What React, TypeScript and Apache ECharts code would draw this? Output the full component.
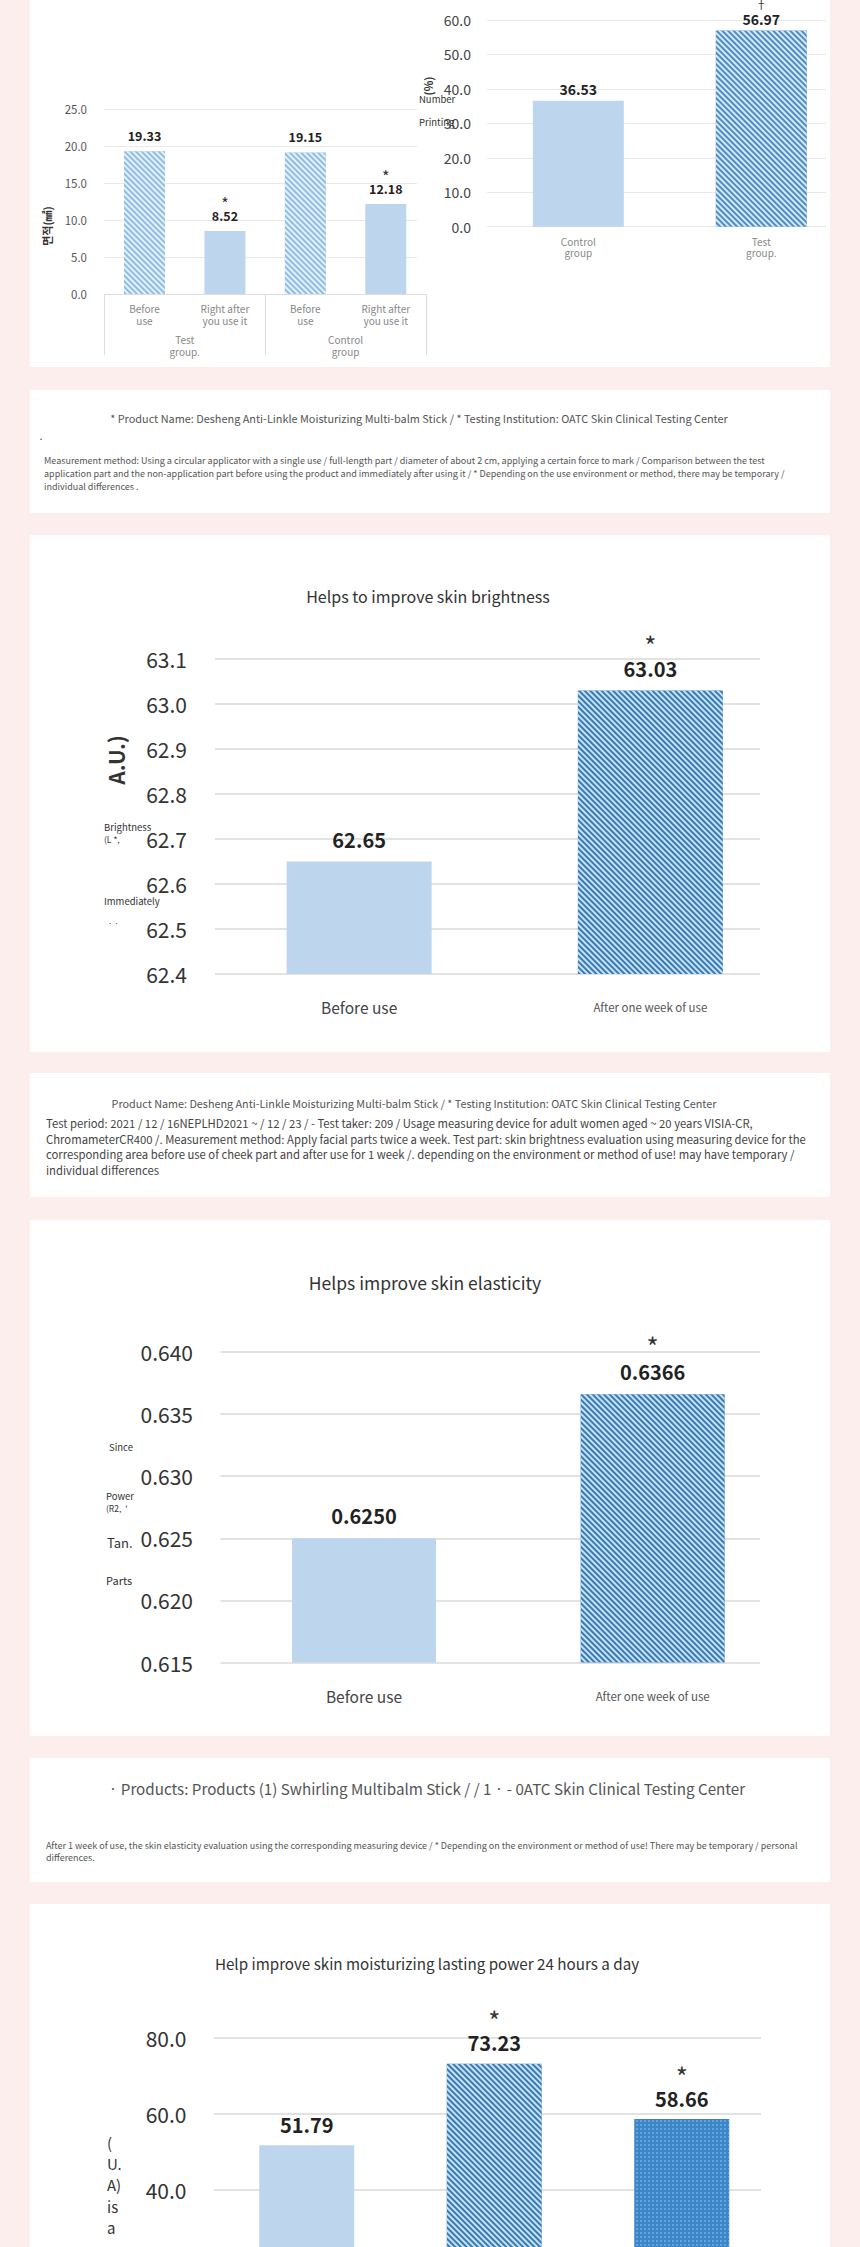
import { useEffect, useRef } from 'react';
import * as echarts from 'echarts';

const FONT = "'Noto Sans CJK KR', 'Noto Sans', sans-serif";

// ---- Chart A: wrinkle area (two-level categories)
const wrinkleCats = ['Before\nuse', 'Right after\nyou use it', 'Before\nuse', 'Right after\nyou use it'];
const wrinkleGroups = ['Test\ngroup.', 'Control\ngroup'];
const wrinkleValues = [19.33, 8.52, 19.15, 12.18];
const wrinkleMarks = ['', '*', '', '*'];
const wrinkleTicks = { min: 0, max: 25, interval: 5 };

// ---- Chart B: rate (%)
const rateCats = ['Control\ngroup', 'Test\ngroup.'];
const rateValues = [36.53, 56.97];
const rateMarks = ['', '†'];
const rateTicks = { min: 0, max: 60, interval: 10 };

// ---- Chart C: brightness
const brightCats = ['Before use', 'After one week of use'];
const brightValues = [62.65, 63.03];
const brightMarks = ['', '*'];
const brightTicks = { min: 62.4, max: 63.1, interval: 0.1 };

// ---- Chart D: elasticity
const elasticCats = ['Before use', 'After one week of use'];
const elasticValues = [0.625, 0.6366];
const elasticMarks = ['', '*'];
const elasticTicks = { min: 0.615, max: 0.64, interval: 0.005 };

// ---- Chart E: moisturizing lasting power
const moistCats = ['Before use', 'After use', 'After 24 hours'];
const moistValues = [51.79, 73.23, 58.66];
const moistMarks = ['', '*', '*'];
const moistTicks = { min: 0, max: 80, interval: 20 };

const LIGHT = '#bed5ee';
const hatch = (base: string, stripe: string, gap: number) => ({
  color: base,
  decal: {
    symbol: 'rect',
    symbolSize: 1,
    dashArrayX: [1, 0],
    dashArrayY: [gap, gap],
    rotation: Math.PI / 4,
    color: stripe,
  },
});
const dotted = {
  color: '#3a86c8',
  decal: {
    symbol: 'rect',
    symbolSize: 0.8,
    dashArrayX: [[2, 1.5]],
    dashArrayY: [2, 1.5],
    rotation: 0,
    color: 'rgba(150,200,240,0.75)',
  },
};

export default function App() {
  const ref = useRef<HTMLDivElement>(null);

  useEffect(() => {
    if (!ref.current) return;
    const chart = echarts.init(ref.current, undefined, { renderer: 'svg' });

    const grids: any[] = [];
    const xAxes: any[] = [];
    const yAxes: any[] = [];
    const series: any[] = [];

    function addChart(c: any) {
      const gA = grids.length;
      grids.push({ left: c.axisL, width: c.axisR - c.axisL, top: c.top, height: c.bottom - c.top });
      const gB = grids.length;
      grids.push({ left: c.barL, width: c.barR - c.barL, top: c.top, height: c.bottom - c.top });
      xAxes.push({ type: 'value', gridIndex: gA, show: false, min: 0, max: 1 });
      yAxes.push({
        type: 'value',
        gridIndex: gA,
        min: c.ticks.min,
        max: c.ticks.max,
        interval: c.ticks.interval,
        axisLine: { show: false },
        axisTick: { show: false },
        axisLabel: {
          margin: c.labelMargin,
          fontSize: c.labelSize,
          color: c.labelColor,
          fontFamily: FONT,
          formatter: (v: number) => v.toFixed(c.labelDigits),
        },
        splitLine: { lineStyle: { color: c.splitColor, width: c.splitWidth } },
      });
      const xB = xAxes.length;
      xAxes.push({
        type: 'category',
        gridIndex: gB,
        data: c.cats,
        axisLine: c.axisLine || { show: false },
        axisTick: { show: false },
        axisLabel: c.catLabel,
      });
      const yB = yAxes.length;
      yAxes.push({ type: 'value', gridIndex: gB, min: c.ticks.min, max: c.ticks.max, show: false });
      series.push({
        type: 'bar',
        xAxisIndex: xB,
        yAxisIndex: yB,
        barWidth: c.barWidth,
        data: c.values.map((v: number, i: number) => ({ value: v, itemStyle: c.styles[i] })),
        label: {
          show: true,
          position: 'top',
          distance: c.distance,
          formatter: (p: any) => {
            const m = c.marks[p.dataIndex];
            const v = `{v|${c.values[p.dataIndex].toFixed(c.valueDigits)}}`;
            return m ? `{s|${m}}\n${v}` : v;
          },
          rich: {
            v: { fontSize: c.valueSize, fontWeight: 'bold', color: '#222', lineHeight: c.valueLH, fontFamily: FONT },
            s: { fontSize: c.markSize, color: '#333', lineHeight: c.markLH, fontFamily: FONT },
          },
        },
      });
      return gB;
    }

    // Chart A
    const gA = addChart({
      axisL: 104, axisR: 417, barL: 104.25, barR: 426, top: 109.3, bottom: 294,
      ticks: wrinkleTicks, labelMargin: 17, labelSize: 11.5, labelColor: '#555', labelDigits: 1,
      splitColor: '#e8e8e8', splitWidth: 1,
      cats: wrinkleCats,
      axisLine: { show: true, lineStyle: { color: '#dddddd' } },
      catLabel: { interval: 0, margin: 8, fontSize: 10, lineHeight: 12, color: '#888', fontFamily: FONT },
      values: wrinkleValues, marks: wrinkleMarks, valueDigits: 2,
      styles: [hatch('#8fbde3', '#e4f1fa', 1.4), { color: LIGHT }, hatch('#8fbde3', '#e4f1fa', 1.4), { color: LIGHT }],
      barWidth: 41, distance: 9, valueSize: 12.5, valueLH: 14, markSize: 16, markLH: 11,
    });
    xAxes.push({
      type: 'category',
      gridIndex: gA,
      position: 'bottom',
      data: wrinkleGroups,
      axisLine: { show: false },
      axisTick: { show: true, length: 61, interval: 0, lineStyle: { color: '#dddddd' } },
      axisLabel: { interval: 0, margin: 39, fontSize: 10, lineHeight: 12, color: '#888', fontFamily: FONT },
    });

    // Chart B
    addChart({
      axisL: 487, axisR: 826, barL: 486.8, barR: 852.8, top: 20, bottom: 226.7,
      ticks: rateTicks, labelMargin: 16, labelSize: 14, labelColor: '#444', labelDigits: 1,
      splitColor: '#e8e8e8', splitWidth: 1,
      cats: rateCats,
      catLabel: { interval: 0, margin: 9, fontSize: 10, lineHeight: 11.5, color: '#888', fontFamily: FONT },
      values: rateValues, marks: rateMarks, valueDigits: 2,
      styles: [{ color: LIGHT }, hatch('#4f8bc4', '#d3eaf8', 1.4)],
      barWidth: 91, distance: 4, valueSize: 14, valueLH: 15, markSize: 11, markLH: 15,
    });

    const bigCatLabel = {
      interval: 0,
      margin: 24,
      formatter: (v: string, i: number) => (i === 0 ? `{a|${v}}` : `{b|${v}}`),
      rich: {
        a: { fontSize: 15.5, color: '#444', lineHeight: 18, fontFamily: FONT },
        b: { fontSize: 11.5, color: '#555', lineHeight: 18, fontFamily: FONT },
      },
    };

    // Chart C
    addChart({
      axisL: 215, axisR: 760, barL: 213.5, barR: 796, top: 659, bottom: 974,
      ticks: brightTicks, labelMargin: 28, labelSize: 21, labelColor: '#333', labelDigits: 1,
      splitColor: '#e2e2e2', splitWidth: 2,
      cats: brightCats, catLabel: bigCatLabel,
      values: brightValues, marks: brightMarks, valueDigits: 2,
      styles: [{ color: LIGHT }, hatch('#3b79b3', '#c4e3f7', 1.8)],
      barWidth: 145, distance: 10, valueSize: 20, valueLH: 24, markSize: 26, markLH: 25,
    });

    // Chart D
    addChart({
      axisL: 220.5, axisR: 760, barL: 219.7, barR: 797, top: 1352, bottom: 1662.5,
      ticks: elasticTicks, labelMargin: 27.5, labelSize: 21, labelColor: '#333', labelDigits: 3,
      splitColor: '#e2e2e2', splitWidth: 2,
      cats: elasticCats, catLabel: { ...bigCatLabel, margin: 24.5 },
      values: elasticValues, marks: elasticMarks, valueDigits: 4,
      styles: [{ color: LIGHT }, hatch('#3b79b3', '#c4e3f7', 1.8)],
      barWidth: 144, distance: 11, valueSize: 20, valueLH: 24, markSize: 26, markLH: 27,
    });

    // Chart E (continues below the visible page)
    addChart({
      axisL: 214, axisR: 761, barL: 213, barR: 775.5, top: 2038, bottom: 2342,
      ticks: moistTicks, labelMargin: 27.5, labelSize: 21, labelColor: '#333', labelDigits: 1,
      splitColor: '#e2e2e2', splitWidth: 2,
      cats: moistCats, catLabel: { show: false },
      values: moistValues, marks: moistMarks, valueDigits: 2,
      styles: [{ color: LIGHT }, hatch('#3b79b3', '#c4e3f7', 1.8), dotted],
      barWidth: 95, distance: 9, valueSize: 20, valueLH: 24, markSize: 26, markLH: 22,
    });

    const panels = [
      [0, 367], [390, 123], [535, 517], [1073, 124], [1220, 516], [1758, 124], [1904, 520],
    ];
    const graphic: any[] = panels.map(([y, h]) => ({
      type: 'rect', z: -10, shape: { x: 30, y, width: 800, height: h }, style: { fill: '#ffffff' },
    }));

    const txt = (text: string, x: number, y: number, size: number, opts: any = {}) => ({
      type: 'text', z: 50, x, y, rotation: opts.rotation || 0,
      style: {
        text, x: 0, y: 0, fontSize: size, fontFamily: FONT, fontWeight: opts.bold ? 'bold' : 'normal',
        fill: opts.color || '#333', align: opts.align || 'left', verticalAlign: 'middle',
      },
    });

    graphic.push(
      // Panel 1
      txt('면적(㎟)', 47, 226, 11, { bold: true, rotation: Math.PI / 2, align: 'center' }),
      txt('(%)', 428, 86, 11, { bold: true, rotation: Math.PI / 2, align: 'center' }),
      txt('Number', 419, 99, 9.5),
      txt('Printing', 419, 122, 9.5),
      // Panel 2
      txt('* Product Name: Desheng Anti-Linkle Moisturizing Multi-balm Stick / * Testing Institution: OATC Skin Clinical Testing Center', 419, 418, 10.9, { align: 'center', color: '#555' }),
      txt('•', 40, 438, 6, { color: '#555' }),
      txt('Measurement method: Using a circular applicator with a single use / full-length part / diameter of about 2 cm, applying a certain force to mark / Comparison between the test', 44, 460, 9, { color: '#555' }),
      txt('application part and the non-application part before using the product and immediately after using it / * Depending on the use environment or method, there may be temporary /', 44, 473, 9, { color: '#555' }),
      txt('individual differences .', 44, 486.5, 9, { color: '#555' }),
      // Panel 3
      txt('Helps to improve skin brightness', 428, 596, 16, { align: 'center' }),
      txt('A.U.)', 116, 760, 21, { bold: true, rotation: Math.PI / 2, align: 'center' }),
      txt('Brightness', 104, 827, 9.5),
      txt('(L *,', 104, 839, 8.5),
      txt('Immediately', 104, 901, 9.5),
      txt('· ·', 108, 922, 8),
      // Panel 4
      txt('Product Name: Desheng Anti-Linkle Moisturizing Multi-balm Stick / * Testing Institution: OATC Skin Clinical Testing Center', 414, 1103, 10.8, { align: 'center', color: '#555' }),
      txt('Test period: 2021 / 12 / 16NEPLHD2021 ~ / 12 / 23 / - Test taker: 209 / Usage measuring device for adult women aged ~ 20 years VISIA-CR,', 46, 1123, 11.3, { color: '#444' }),
      txt('ChromameterCR400 /. Measurement method: Apply facial parts twice a week. Test part: skin brightness evaluation using measuring device for the', 46, 1138.5, 11.3, { color: '#444' }),
      txt('corresponding area before use of cheek part and after use for 1 week /. depending on the environment or method of use! may have temporary /', 46, 1154, 11.3, { color: '#444' }),
      txt('individual differences', 46, 1170, 11.3, { color: '#444' }),
      // Panel 5
      txt('Helps improve skin elasticity', 425, 1282, 17.5, { align: 'center' }),
      txt('Since', 109, 1447, 9.5),
      txt('Power', 106, 1496, 9.5),
      txt("(R2,  '", 106, 1508, 8.5),
      txt('Tan.', 107, 1542, 13),
      txt('Parts', 106, 1580, 11),
      // Panel 6
      txt('· Products: Products (1) Swhirling Multibalm Stick / / 1 · - 0ATC Skin Clinical Testing Center', 427, 1788, 15.2, { align: 'center', color: '#555' }),
      txt('After 1 week of use, the skin elasticity evaluation using the corresponding measuring device / * Depending on the environment or method of use! There may be temporary / personal', 46, 1845, 9, { color: '#555' }),
      txt('differences.', 46, 1857, 9, { color: '#555' }),
      // Panel 7
      txt('Help improve skin moisturizing lasting power 24 hours a day', 427, 1963, 15.2, { align: 'center' }),
      txt('(', 107, 2142, 15),
      txt('U.', 107, 2163, 15),
      txt('A)', 107, 2184, 15),
      txt('is', 107, 2206, 15),
      txt('a', 107, 2227, 15),
    );

    chart.setOption({
      animation: false,
      backgroundColor: '#fdeeee',
      textStyle: { fontFamily: FONT },
      grid: grids,
      xAxis: xAxes,
      yAxis: yAxes,
      series,
      graphic,
    });

    return () => chart.dispose();
  }, []);

  return (
    <div style={{ position: 'absolute', left: 0, top: 0, width: 860, height: 2247, overflow: 'hidden' }}>
      <div ref={ref} style={{ width: 860, height: 2420 }} />
    </div>
  );
}
